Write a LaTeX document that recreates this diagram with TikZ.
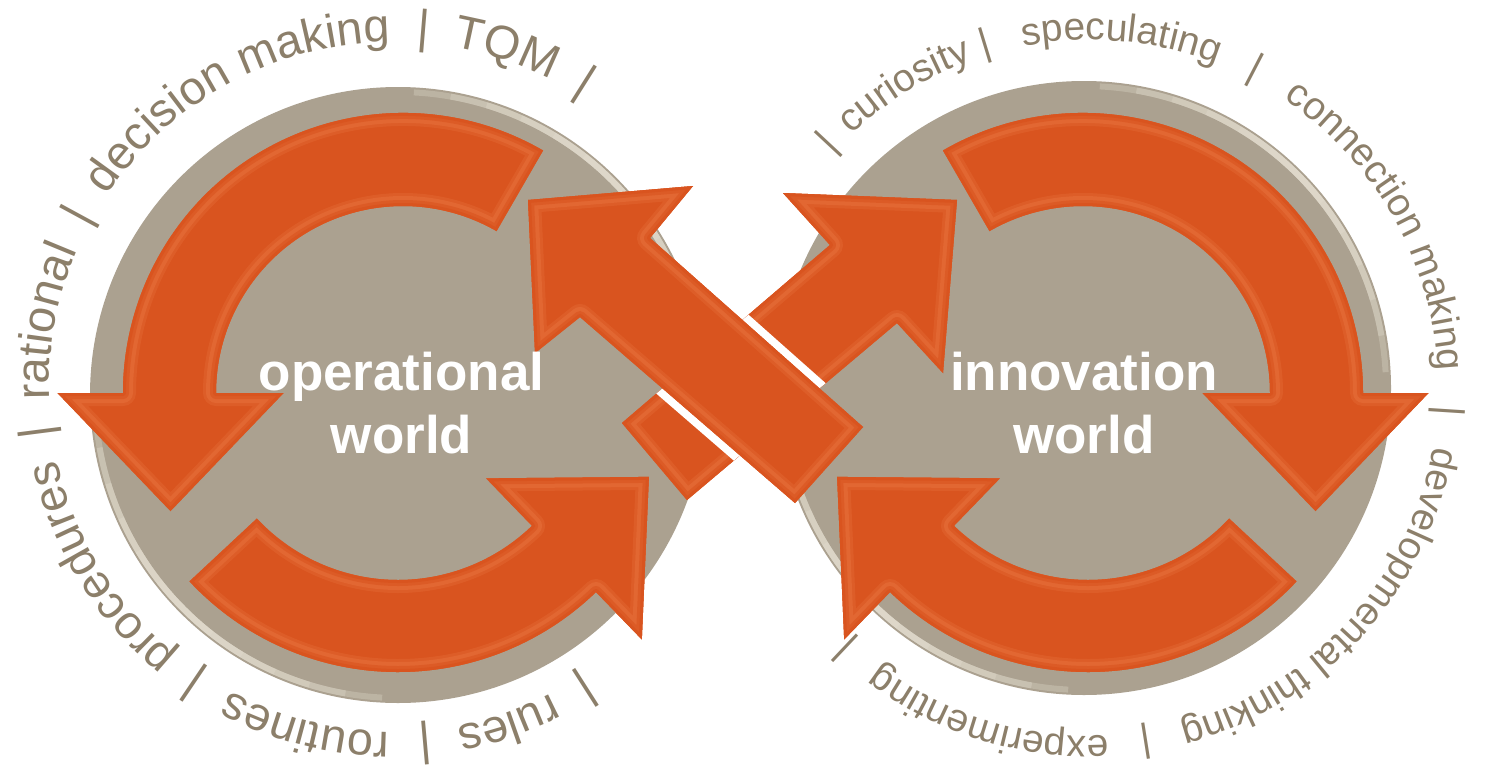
\documentclass[tikz,border=0pt]{standalone}
\usepackage{fontspec}
\setmainfont{Liberation Sans}
\usetikzlibrary{decorations.text}
\definecolor{greyC}{HTML}{ABA190}
\definecolor{rimC}{HTML}{E6E0D2}
\definecolor{orA}{HTML}{D9541F}
\definecolor{orL}{HTML}{F7915A}
\definecolor{txtC}{HTML}{8C7F6A}
\newcommand\bevelfill[1]{%
  \fill[orA] #1;
  \begin{scope}
    \clip #1;
    \draw[orL, line width=26, opacity=.16, line join=round] #1;
    \draw[orL, line width=20, opacity=.2, line join=round] #1;
    \draw[orA, line width=12, opacity=.6, line join=round] #1;
    \draw[orA, line width=6, line join=round] #1;
  \end{scope}}
% word along a clockwise arc, centred at angle #1, baseline radius #2
\newcommand\arcword[3]{%
  \path[decorate, decoration={text along path, text align=center, text color=txtC, text={#3}}]
    ({#1+80}:#2) arc[start angle={#1+80}, end angle={#1-80}, radius=#2];}
\tikzset{
  lbl/.style={text=white, font=\fontsize{53}{53}\selectfont\bfseries, inner sep=0pt, anchor=base},
  rimarc/.style={rimC, line width=6, opacity=.3},
  barL/.style={text=txtC, font=\fontsize{46.8}{50}\selectfont, inner sep=0pt, anchor=base},
  barR/.style={text=txtC, font=\fontsize{38.9}{42}\selectfont, inner sep=0pt, anchor=base}
}
\begin{document}
\begin{tikzpicture}[x=1pt,y=1pt]
\useasboundingbox (0,0) rectangle (1485,-768);
\fill[white] (0,0) rectangle (1485,-768);

% grey discs
\fill[greyC] (398,-395) circle[radius=308];
\fill[greyC] (1084,-388) circle[radius=307];
\begin{scope}[shift={(398,-395)}]
\foreach \k in {1,...,6}{
  \draw[rimarc] ({45-7*\k}:303) arc[start angle={45-7*\k}, end angle={45+7*\k}, radius=303];
  \draw[rimarc] ({225-7*\k}:303) arc[start angle={225-7*\k}, end angle={225+7*\k}, radius=303];
}
\end{scope}
\begin{scope}[shift={(1084,-388)}]
\foreach \k in {1,...,6}{
  \draw[rimarc] ({45-7*\k}:302) arc[start angle={45-7*\k}, end angle={45+7*\k}, radius=302];
  \draw[rimarc] ({225-7*\k}:302) arc[start angle={225-7*\k}, end angle={225+7*\k}, radius=302];
}
\end{scope}

% circular texts, left
\begin{scope}[shift={(394,-387)}]
\fontsize{46.8}{50}\selectfont
\arcword{288.8}{345}{rules}
\arcword{255.45}{345}{routines}
\arcword{211.6}{345}{procedures}
\arcword{169.4}{345}{rational}
\arcword{118.4}{345}{decision making}
\arcword{71.55}{345}{TQM}
\foreach \a [count=\i] in {302.6,275,235.9,187.3,151.5,85.3,57.8}
  \node[barL, rotate=\a-90] (lb\i) at (\a:345) {|};
\end{scope}
% circular texts, right
\begin{scope}[shift={(1090,-388)}]
\fontsize{38.9}{42}\selectfont
\arcword{121.5}{348}{curiosity}
\arcword{84.8}{348}{speculating}
\arcword{29.45}{348}{connection making}
\arcword{-42.35}{348}{developmental thinking}
\arcword{-107.15}{348}{experimenting}
\foreach \a [count=\i] in {137,107,62.6,-3.7,-81,-133.3}
  \node[barR, rotate=\a-90] (rb\i) at (\a:348) {|};
\end{scope}

% left circular arrows
\begin{scope}[shift={(403,-393)}]
\bevelfill{(60:280) arc[start angle=60,end angle=180,radius=280] -- (180:345.5) -- (-232.5,-118) -- (180:119.5) -- (180:187) arc[start angle=180,end angle=60,radius=187] -- cycle}
\end{scope}
\begin{scope}[shift={(398,-387)}]
\bevelfill{(223:285) arc[start angle=223,end angle=314,radius=285] -- (314:351) -- (250.9,-89.9) -- (314:127) -- (314:193) arc[start angle=314,end angle=223,radius=193] -- cycle}
\end{scope}

% right circular arrows
\begin{scope}[shift={(1083,-393)}]
\bevelfill{(120:280) arc[start angle=120,end angle=0,radius=280] -- (0:345.5) -- (232.5,-118) -- (0:119.5) -- (0:187) arc[start angle=0,end angle=120,radius=187] -- cycle}
\end{scope}
\begin{scope}[shift={(1088,-387)}]
\bevelfill{(317:285) arc[start angle=317,end angle=226,radius=285] -- (226:351) -- (-250.9,-89.9) -- (226:127) -- (226:193) arc[start angle=226,end angle=317,radius=193] -- cycle}
\end{scope}

% crossing arrows
\bevelfill{(957,-200) -- (943,-373) -- (897,-323) -- (687,-500) -- (622,-423) -- (830,-245) -- (783,-193) -- cycle}
\begin{scope}
\clip (957,-200) -- (943,-373) -- (897,-323) -- (687,-500) -- (622,-423) -- (830,-245) -- (783,-193) -- cycle;
\draw[white, line width=16] (528,-200) -- (693,-186) -- (650,-238) -- (863,-427) -- (795,-503) -- (580,-317) -- (535,-353) -- cycle;
\end{scope}
\bevelfill{(528,-200) -- (693,-186) -- (650,-238) -- (863,-427) -- (795,-503) -- (580,-317) -- (535,-353) -- cycle}

% centre labels
\node[lbl] (opA) at (401.5,-390) {operational};
\node[lbl] (opB) at (401.5,-453) {world};
\node[lbl] (inA) at (1084,-390) {innovation};
\node[lbl] (inB) at (1084,-453) {world};
\end{tikzpicture}
\end{document}
